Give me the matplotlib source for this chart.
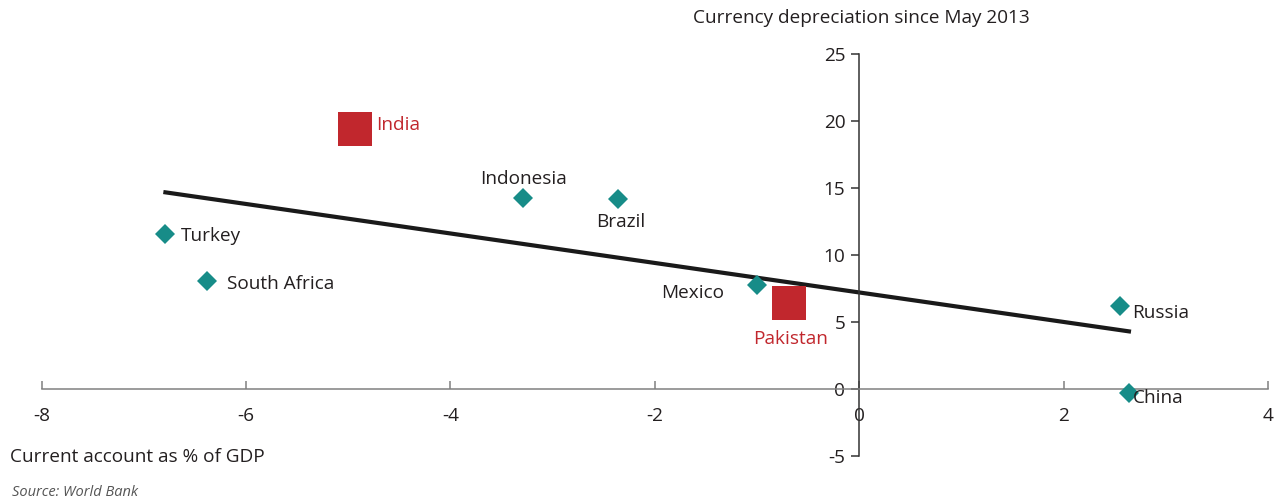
import matplotlib.pyplot as plt

plt.rcParams['font.family'] = ['Open Sans', 'DejaVu Sans']
plt.rcParams['axes.unicode_minus'] = False

# Data
countries = ['Turkey', 'South Africa', 'Indonesia', 'Brazil', 'Mexico', 'Russia', 'China']
current_account = [-6.79, -6.38, -3.29, -2.36, -1.0, 2.55, 2.64]
depreciation = [11.6, 8.06, 14.25, 14.2, 7.76, 6.2, -0.28]

highlight = ['India', 'Pakistan']
highlight_ca = [-4.93, -0.685]
highlight_dep = [19.4, 6.42]

trend_x = [-6.81, 2.66]
trend_y = [14.7, 4.28]

xticks = [-8, -6, -4, -2, 0, 2, 4]
yticks = [-5, 0, 5, 10, 15, 20, 25]

teal = '#178c88'
red = '#c1272d'
text_col = '#231f20'
fs = 13.7

fig = plt.figure(figsize=(12.77, 5.03), dpi=100)
ax = fig.add_axes([0.0327, 0.0934, 0.9602, 0.7992])

ax.plot(trend_x, trend_y, color='#1a1a1a', lw=3, solid_capstyle='butt', zorder=2)
ax.plot(current_account, depreciation, 'D', color=teal, ms=10, mew=0, zorder=3)
ax.plot(highlight_ca, highlight_dep, 's', color=red, ms=24, mew=0, zorder=3)

# label offsets in points (dx, dy, ha)
offsets = {
    'Turkey': (11, -2, 'left'),
    'South Africa': (14, -2, 'left'),
    'Indonesia': (0, 14, 'center'),
    'Brazil': (2, -17, 'center'),
    'Mexico': (-24, -6, 'right'),
    'Russia': (9, -5, 'left'),
    'China': (3, -4, 'left'),
}
for name, x, y in zip(countries, current_account, depreciation):
    dx, dy, ha = offsets[name]
    ax.annotate(name, (x, y), xytext=(dx, dy), textcoords='offset points',
                ha=ha, va='center', fontsize=fs, color=text_col, zorder=4)

hl_offsets = {'India': (15, 3, 'left'), 'Pakistan': (1, -26, 'center')}
for name, x, y in zip(highlight, highlight_ca, highlight_dep):
    dx, dy, ha = hl_offsets[name]
    ax.annotate(name, (x, y), xytext=(dx, dy), textcoords='offset points',
                ha=ha, va='center', fontsize=fs, color=red, zorder=4)

ax.set_xlim(-8, 4)
ax.set_ylim(-5, 25)
ax.spines['left'].set_position(('data', 0))
ax.spines['bottom'].set_position(('data', 0))
ax.spines['top'].set_visible(False)
ax.spines['right'].set_visible(False)
ax.spines['left'].set_color('#333333')
ax.spines['bottom'].set_color('#808080')
ax.spines['left'].set_linewidth(1.1)
ax.spines['bottom'].set_linewidth(1.1)

ax.set_xticks(xticks)
ax.set_yticks(yticks)
ax.tick_params(axis='x', direction='in', length=6, width=1.1, color='#808080',
               labelsize=fs, labelcolor=text_col, pad=13)
ax.tick_params(axis='y', direction='out', length=6, width=1.1, color='#333333',
               labelsize=fs, labelcolor=text_col, pad=4)
ax.patch.set_visible(False)

fig.text(693 / 1277, 1 - 18 / 503, 'Currency depreciation since May 2013',
         ha='left', va='center', fontsize=fs, color=text_col)
fig.text(10 / 1277, 1 - 457 / 503, 'Current account as % of GDP',
         ha='left', va='center', fontsize=fs, color=text_col)
fig.text(12 / 1277, 1 - 493 / 503, 'Source: World Bank',
         ha='left', va='center', fontsize=10.5, style='italic', color='#555555')

fig.savefig('out.png', dpi=100)
